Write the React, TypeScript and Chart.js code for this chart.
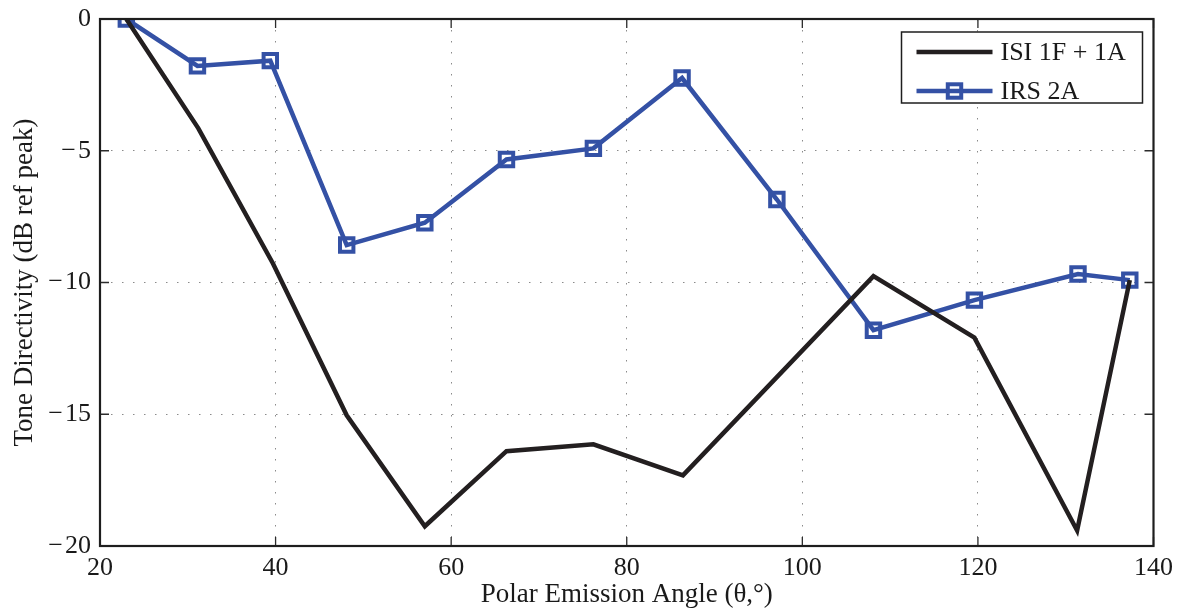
import React, { useEffect, useRef } from "react";
import { Chart, registerables } from "chart.js";

Chart.register(...registerables);

const isiAngles = [23.0, 31.2, 39.7, 48.1, 57.0, 66.3, 76.2, 86.4, 108.1, 119.6, 131.3, 137.3];
const isiValues = [0, -4.15, -9.28, -15.04, -19.25, -16.4, -16.14, -17.32, -9.76, -12.09, -19.41, -9.91];
const irsAngles = [23.0, 31.1, 39.4, 48.1, 57.0, 66.3, 76.2, 86.3, 97.1, 108.1, 119.6, 131.4, 137.3];
const irsValues = [0, -1.78, -1.58, -8.58, -7.73, -5.33, -4.91, -2.24, -6.85, -11.81, -10.67, -9.68, -9.91];
const seriesLabels = ["ISI 1F + 1A", "IRS 2A"];
const xTitle = "Polar Emission Angle (θ,°)";
const yTitle = "Tone Directivity (dB ref peak)";

const FONT = "'Liberation Serif', 'Times New Roman', serif";
const BLACK = "#231f20";
const BLUE = "#3451a5";

const frame = {
  id: "frame",
  afterDatasetsDraw(chart: any) {
    const { ctx, chartArea: a, scales } = chart;
    ctx.save();
    ctx.strokeStyle = "#2b2b2b";
    ctx.lineWidth = 1.3;
    const tl = 9;
    ctx.beginPath();
    for (const t of scales.x.ticks) {
      const px = scales.x.getPixelForValue(t.value);
      ctx.moveTo(px, a.bottom); ctx.lineTo(px, a.bottom - tl);
      ctx.moveTo(px, a.top); ctx.lineTo(px, a.top + tl);
    }
    for (const t of scales.y.ticks) {
      const py = scales.y.getPixelForValue(t.value);
      ctx.moveTo(a.left, py); ctx.lineTo(a.left + tl, py);
      ctx.moveTo(a.right, py); ctx.lineTo(a.right - tl, py);
    }
    ctx.stroke();
    ctx.lineWidth = 2.2;
    ctx.strokeStyle = "#1e1e1e";
    ctx.strokeRect(a.left, a.top, a.right - a.left, a.bottom - a.top);
    ctx.restore();
  },
  afterDraw(chart: any) {
    const { ctx, chartArea: a } = chart;
    const bx = a.right - 252, by = a.top + 13, bw = 241, bh = 71;
    ctx.save();
    ctx.fillStyle = "#fff";
    ctx.fillRect(bx, by, bw, bh);
    ctx.strokeStyle = "#1e1e1e";
    ctx.lineWidth = 1.5;
    ctx.strokeRect(bx, by, bw, bh);
    const rows = [by + 20, by + 59];
    chart.data.datasets.forEach((ds: any, i: number) => {
      const y = rows[i];
      ctx.strokeStyle = ds.borderColor;
      ctx.lineWidth = ds.borderWidth;
      ctx.beginPath();
      ctx.moveTo(bx + 15, y);
      ctx.lineTo(bx + 91, y);
      ctx.stroke();
      if (ds.pointRadius > 0) {
        const s = ds.pointRadius * Math.SQRT1_2;
        ctx.lineWidth = ds.pointBorderWidth;
        ctx.strokeStyle = ds.pointBorderColor;
        ctx.strokeRect(bx + 53 - s, y - s, 2 * s, 2 * s);
      }
      ctx.fillStyle = "#1a1a1a";
      ctx.font = `26px ${FONT}`;
      ctx.textBaseline = "middle";
      ctx.textAlign = "left";
      ctx.fillText(ds.label, bx + 99, y + 1);
    });
    ctx.restore();
  },
};

export default function App() {
  const ref = useRef<HTMLCanvasElement>(null);
  useEffect(() => {
    const chart = new Chart(ref.current!, {
      type: "line",
      data: {
        datasets: [
          {
            label: seriesLabels[0],
            data: isiAngles.map((x, i) => ({ x, y: isiValues[i] })),
            borderColor: BLACK,
            borderWidth: 4.5,
            pointRadius: 0,
            pointHoverRadius: 0,
            tension: 0,
          },
          {
            label: seriesLabels[1],
            data: irsAngles.map((x, i) => ({ x, y: irsValues[i] })),
            borderColor: BLUE,
            borderWidth: 4.5,
            pointStyle: "rect",
            pointRadius: 9.5,
            pointHoverRadius: 9.5,
            pointBorderWidth: 4,
            pointBorderColor: BLUE,
            pointBackgroundColor: "rgba(255,255,255,0)",
            tension: 0,
          },
        ],
      },
      options: {
        animation: false,
        responsive: true,
        maintainAspectRatio: false,
        layout: { padding: { left: 0, right: 26, top: 19, bottom: 0 } },
        plugins: { legend: { display: false }, tooltip: { enabled: false } },
        scales: {
          x: {
            type: "linear",
            min: 20,
            max: 140,
            afterFit: (s: any) => { s.height = 68; },
            ticks: { stepSize: 20, padding: 7, color: "#1a1a1a", font: { family: FONT, size: 26 }, maxRotation: 0 },
            grid: { color: "#8a8a8a", lineWidth: 1, drawTicks: false },
            border: { display: false, dash: [1.5, 9.5] },
            title: { display: true, text: xTitle, color: "#1a1a1a", font: { family: FONT, size: 27 }, padding: { top: 0, bottom: 3 } },
          },
          y: {
            min: -20,
            max: 0,
            afterFit: (s: any) => { s.width = 100; },
            ticks: {
              stepSize: 5,
              padding: 9,
              color: "#1a1a1a",
              font: { family: FONT, size: 26, lineHeight: 0.7 },
              callback: (v: any) => (v < 0 ? "\u2212\u200A" + Math.abs(v) : String(v)),
            },
            grid: { color: "#8a8a8a", lineWidth: 1, drawTicks: false },
            border: { display: false, dash: [1.5, 9.5] },
            title: { display: true, text: yTitle, color: "#1a1a1a", font: { family: FONT, size: 27 }, padding: { top: 9, bottom: 0 } },
          },
        },
      },
      plugins: [frame],
    });
    return () => chart.destroy();
  }, []);
  return (
    <div style={{ position: "fixed", left: 0, top: 0, width: 1180, height: 614, background: "#fff" }}>
      <canvas ref={ref} />
    </div>
  );
}
